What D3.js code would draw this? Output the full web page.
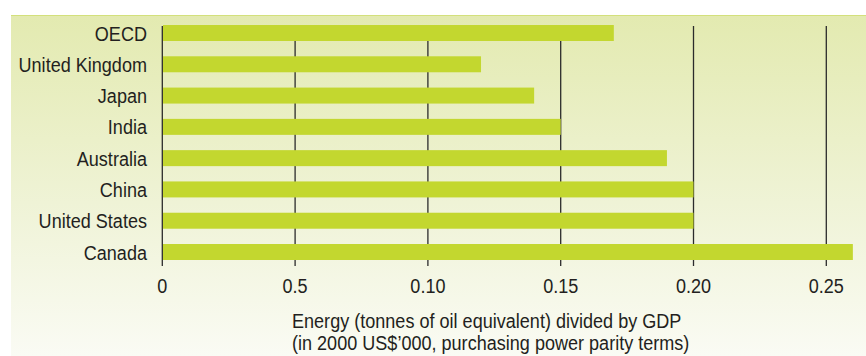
<!DOCTYPE html>
<html>
<head>
<meta charset="utf-8">
<script src="https://cdn.jsdelivr.net/npm/d3@7"></script>
<style>
  html, body { margin: 0; padding: 0; background: #ffffff; }
  svg { display: block; }
  text { font-family: "Liberation Sans", Arial, sans-serif; fill: #231f20; }
</style>
</head>
<body>
<script>
// Energy intensity by economy
const categories = ["OECD", "United Kingdom", "Japan", "India", "Australia", "China", "United States", "Canada"];
const values = [0.17, 0.12, 0.14, 0.15, 0.19, 0.20, 0.20, 0.26];
const tickValues = [0, 0.05, 0.10, 0.15, 0.20, 0.25];
const tickLabels = ["0", "0.5", "0.10", "0.15", "0.20", "0.25"];
const titleLines = ["Energy (tonnes of oil equivalent) divided by GDP", "(in 2000 US$\u2019000, purchasing power parity terms)"];

const W = 866, H = 356;
const FS = 21;       // font size
const SX = 0.86;     // horizontal squeeze for a condensed look

const svg = d3.select("body").append("svg").attr("width", W).attr("height", H);

// Background panel with a soft vertical gradient
const defs = svg.append("defs");
const grad = defs.append("linearGradient").attr("id", "bg").attr("x1", 0).attr("y1", 0).attr("x2", 0).attr("y2", 1);
grad.append("stop").attr("offset", "0%").attr("stop-color", "#e3eab0");
grad.append("stop").attr("offset", "55%").attr("stop-color", "#eff3d6");
grad.append("stop").attr("offset", "100%").attr("stop-color", "#fafbf4");

svg.append("rect").attr("x", 11).attr("y", 15).attr("width", W - 11).attr("height", H - 15).attr("fill", "url(#bg)");
svg.append("line").attr("x1", 11).attr("x2", W).attr("y1", 15.5).attr("y2", 15.5).attr("stroke", "#d3e07c").attr("stroke-width", 1);

const x = d3.scaleLinear().domain([0, 0.25]).range([162.3, 826.3]);
const y = d3.scaleBand().domain(categories).range([25, 260]).paddingInner(0.489).paddingOuter(0);

const gridTop = 26, gridBottom = 266;

// Vertical gridlines (the zero line doubles as the axis)
svg.append("g").selectAll("line").data(tickValues).join("line")
  .attr("x1", d => x(d)).attr("x2", d => x(d))
  .attr("y1", gridTop).attr("y2", gridBottom)
  .attr("stroke", "#2b2b2b").attr("stroke-width", 1.3);

// Bars
svg.append("g").selectAll("rect").data(categories).join("rect")
  .attr("x", x(0) + 0.7)
  .attr("y", d => y(d))
  .attr("width", (d, i) => x(values[i]) - x(0) - 0.7)
  .attr("height", y.bandwidth())
  .attr("fill", "#c3d72f");

// Helper: place condensed text at (px, py)
function place(sel, px, py) {
  sel.attr("transform", (d, i) => `translate(${px(d, i)},${py(d, i)}) scale(${SX},1)`);
}

// Category labels
svg.append("g").selectAll("text").data(categories).join("text")
  .attr("dy", "0.36em")
  .attr("text-anchor", "end")
  .attr("font-size", FS)
  .text(d => d)
  .call(place, () => 147, d => y(d) + y.bandwidth() / 2);

// X tick labels
svg.append("g").selectAll("text").data(tickValues).join("text")
  .attr("text-anchor", "middle")
  .attr("font-size", FS)
  .text((d, i) => tickLabels[i])
  .call(place, d => x(d), () => 293);

// Axis title
svg.append("g").selectAll("text").data(titleLines).join("text")
  .attr("font-size", FS)
  .text(d => d)
  .call(place, () => 292, (d, i) => 328 + i * 22);
</script>
</body>
</html>
